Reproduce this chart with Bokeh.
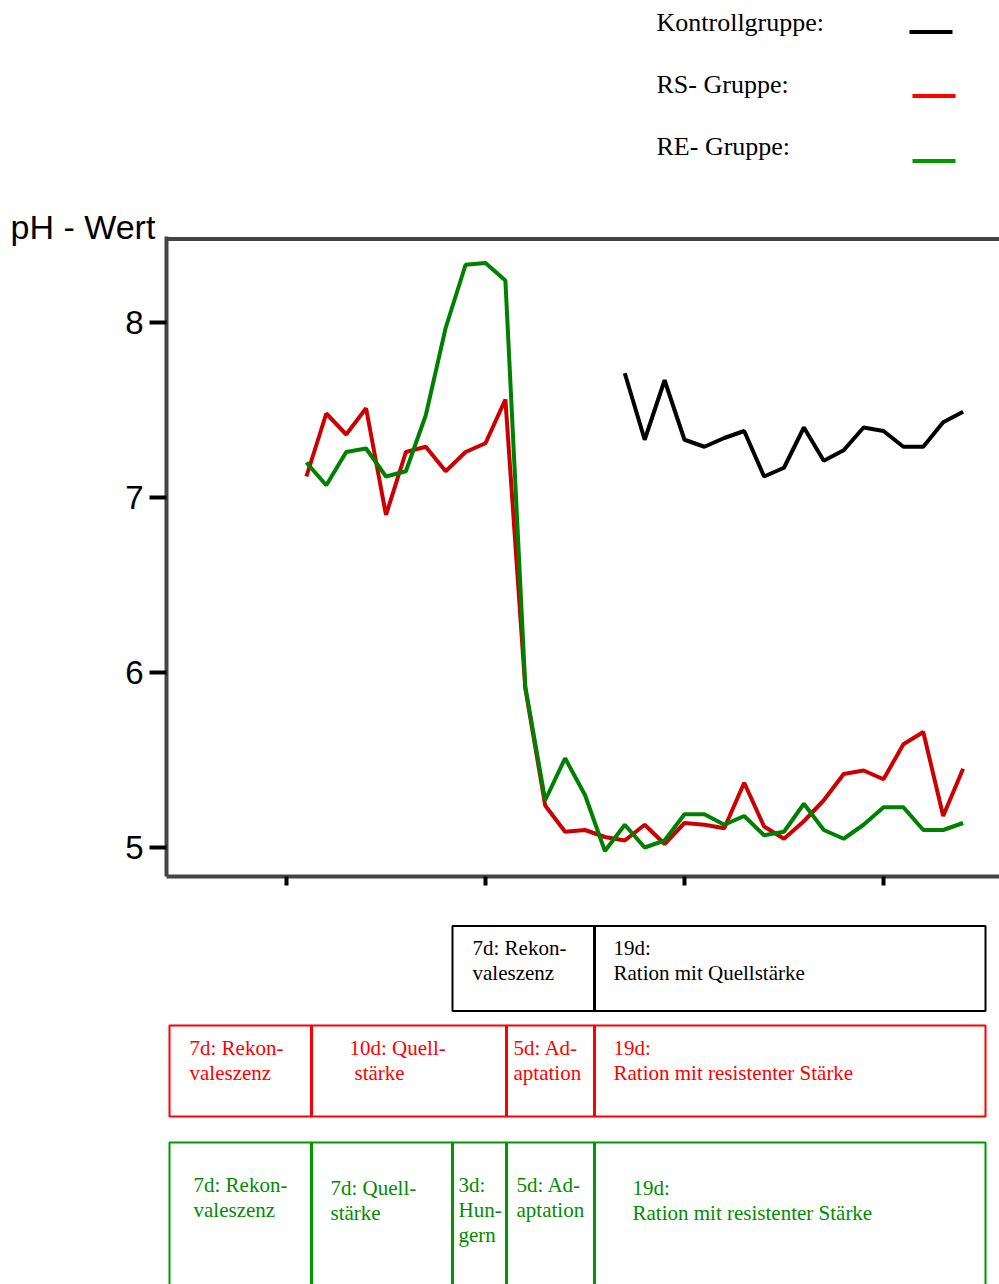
from bokeh.plotting import figure
from bokeh.models import Range1d, FixedTicker, LinearAxis, Span, Title
from bokeh.layouts import column
from bokeh.core.properties import value
from bokeh.embed import file_html
from bokeh.resources import INLINE

# ---------------- data ----------------
days_rs = list(range(1, 35))
ph_rs = [7.12, 7.48, 7.36, 7.51, 6.90, 7.26, 7.29, 7.15, 7.26, 7.31, 7.56,
         5.91, 5.24, 5.09, 5.10, 5.06, 5.04, 5.13, 5.02, 5.14, 5.13, 5.11,
         5.37, 5.12, 5.05, 5.15, 5.27, 5.42, 5.44, 5.39, 5.59, 5.66, 5.18, 5.45]

days_re = list(range(1, 35))
ph_re = [7.20, 7.07, 7.26, 7.28, 7.12, 7.15, 7.47, 7.97, 8.33, 8.34, 8.24,
         5.92, 5.27, 5.51, 5.30, 4.98, 5.13, 5.00, 5.04, 5.19, 5.19, 5.13,
         5.18, 5.07, 5.09, 5.25, 5.10, 5.05, 5.13, 5.23, 5.23, 5.10, 5.10, 5.14]

days_ctrl = list(range(17, 35))
ph_ctrl = [7.71, 7.33, 7.67, 7.33, 7.29, 7.34, 7.38, 7.12, 7.17, 7.40,
           7.21, 7.27, 7.40, 7.38, 7.29, 7.29, 7.43, 7.49]

y_ticks = [5, 6, 7, 8]
x_ticks = [0, 10, 20, 30]

legend_names = ["Kontrollgruppe:", "RS- Gruppe:", "RE- Gruppe:"]

ctrl_phases = [["7d: Rekon-", "valeszenz"], ["19d:", "Ration mit Quellstärke"]]
rs_phases = [["7d: Rekon-", "valeszenz"], ["10d: Quell-", "stärke"], ["5d: Ad-", "aptation"],
             ["19d:", "Ration mit resistenter Stärke"]]
re_phases = [["7d: Rekon-", "valeszenz"], ["7d: Quell-", "stärke"], ["3d:", "Hun-", "gern"],
             ["5d: Ad-", "aptation"], ["19d:", "Ration mit resistenter Stärke"]]

# ---------------- styles / layout ----------------
C_BLACK = "#000000"
C_RED_LINE = "#CC0000"
C_GREEN_LINE = "#008000"
C_RED = "#FF0000"
C_GREEN_BOX = "#009900"
C_GREEN_TXT = "#008C00"
AX = "#444444"
SERIF = "Liberation Serif"
SANS = "Liberation Sans"
W = 999
LEFT = 166          # frame left (page px)
TXT_SHIFT = -8      # baseline correction for serif texts


def plain(fig):
    fig.axis.visible = False
    fig.grid.visible = False
    fig.outline_line_color = None
    return fig


# ---------------- top figure (legend) ----------------
TOP_H = 200
top = plain(figure(width=W, height=TOP_H, x_range=Range1d(LEFT, W), y_range=Range1d(TOP_H, 0),
                   output_backend="svg", toolbar_location=None, min_border=0,
                   min_border_left=LEFT, min_border_right=0))

leg_colors = [C_BLACK, C_RED, C_GREEN_BOX]
leg_text_y = [30 + TXT_SHIFT, 92 + TXT_SHIFT, 154 + TXT_SHIFT]
leg_line_y = [31.5, 95.5, 160.5]
leg_line_x0 = [909, 912, 912]
top.text(x=[656] * 3, y=leg_text_y, text=legend_names, text_font=value(SERIF),
         text_font_size="26px", text_color="#000000", text_baseline="alphabetic",
         text_align="left")
top.segment(x0=leg_line_x0, x1=[x + 43 for x in leg_line_x0], y0=leg_line_y, y1=leg_line_y,
            line_color=leg_colors, line_width=4)

# ---------------- main chart ----------------
MAIN_TOP, FRAME_T, FRAME_B, MAIN_BOTTOM = TOP_H, 236, 876, 900
x0, x1 = -6.03, 35.83
y0 = 8 - (FRAME_B - 322) / 175.0
y1 = 8 + (322 - FRAME_T) / 175.0
p = figure(width=W, height=MAIN_BOTTOM - MAIN_TOP, x_range=Range1d(x0, x1),
           y_range=Range1d(y0, y1), output_backend="svg", toolbar_location=None,
           min_border_left=LEFT, min_border_right=0,
           min_border_top=FRAME_T - MAIN_TOP, min_border_bottom=MAIN_BOTTOM - FRAME_B,
           x_axis_location=None, y_axis_location=None)
p.grid.visible = False
p.outline_line_color = None

p.title = Title(text="pH - Wert", align="left", offset=-(LEFT - 10), text_font=SANS,
                text_font_size="34px", text_font_style="normal", text_color="black",
                vertical_align="bottom", standoff=-18)

yax = LinearAxis(ticker=FixedTicker(ticks=y_ticks), axis_line_color=AX, axis_line_width=4,
                 major_tick_line_color="black", major_tick_line_width=4,
                 major_tick_out=17, major_tick_in=0, minor_tick_line_color=None,
                 major_label_text_font=SANS, major_label_text_font_size="33px",
                 major_label_text_color="black", major_label_standoff=6)
p.add_layout(yax, "left")
xax = LinearAxis(ticker=FixedTicker(ticks=x_ticks), axis_line_color=AX, axis_line_width=4,
                 major_tick_line_color="black", major_tick_line_width=4,
                 major_tick_out=9, major_tick_in=0, minor_tick_line_color=None,
                 major_label_overrides={t: "" for t in x_ticks},
                 major_label_text_font_size="10px", major_label_standoff=0)
p.add_layout(xax, "below")

# top frame border
top_border = 8 + (322 - 238.5) / 175.0
p.add_layout(Span(location=top_border, dimension="width", line_color=AX, line_width=4))

p.line(days_ctrl, ph_ctrl, line_color=C_BLACK, line_width=4)
p.line(days_rs, ph_rs, line_color=C_RED_LINE, line_width=4)
p.line(days_re, ph_re, line_color=C_GREEN_LINE, line_width=4)

# ---------------- phase boxes ----------------
BX_TOP, BX_BOTTOM = MAIN_BOTTOM, 1284
bx = plain(figure(width=W, height=BX_BOTTOM - BX_TOP, x_range=Range1d(LEFT, W),
                  y_range=Range1d(BX_BOTTOM, BX_TOP), output_backend="svg",
                  toolbar_location=None, min_border=0, min_border_left=LEFT,
                  min_border_right=0))

rows = [
    dict(edges=[452, 594, 985], top=925.5, bottom=1010.5, color=C_BLACK, tcolor=C_BLACK,
         labels=ctrl_phases, lx=[472, 613], ly=[955, 955], indent={}),
    dict(edges=[169, 311, 506, 594, 985], top=1025, bottom=1116, color=C_RED, tcolor=C_RED,
         labels=rs_phases, lx=[189, 349, 513, 613], ly=[1055, 1055, 1055, 1055],
         indent={(1, 1): 5}),
    dict(edges=[169, 311, 452, 506, 594, 985], top=1142, bottom=1300, color=C_GREEN_BOX,
         tcolor=C_GREEN_TXT, labels=re_phases, lx=[193, 330, 458, 516, 632],
         ly=[1192, 1195, 1192, 1192, 1195], indent={}),
]
for r in rows:
    e = r["edges"]
    n = len(e) - 1
    bx.quad(left=e[:-1], right=e[1:], top=[r["top"]] * n, bottom=[r["bottom"]] * n,
            fill_color=None, line_color=r["color"], line_width=2)
    inner = e[1:-1]
    bx.segment(x0=inner, x1=inner, y0=[r["top"]] * len(inner), y1=[r["bottom"]] * len(inner),
               line_color=r["color"], line_width=3)
    tx, ty, tt = [], [], []
    for j, (lines, lx, ly) in enumerate(zip(r["labels"], r["lx"], r["ly"])):
        for i, line in enumerate(lines):
            tx.append(lx + r["indent"].get((j, i), 0))
            ty.append(ly + 25 * i + TXT_SHIFT)
            tt.append(line)
    bx.text(x=tx, y=ty, text=tt, text_font=value(SERIF), text_font_size="21px",
            text_color=r["tcolor"], text_baseline="alphabetic", text_align="left")

layout = column(top, p, bx, spacing=0)
open("out.html", "w").write(file_html(layout, INLINE))
